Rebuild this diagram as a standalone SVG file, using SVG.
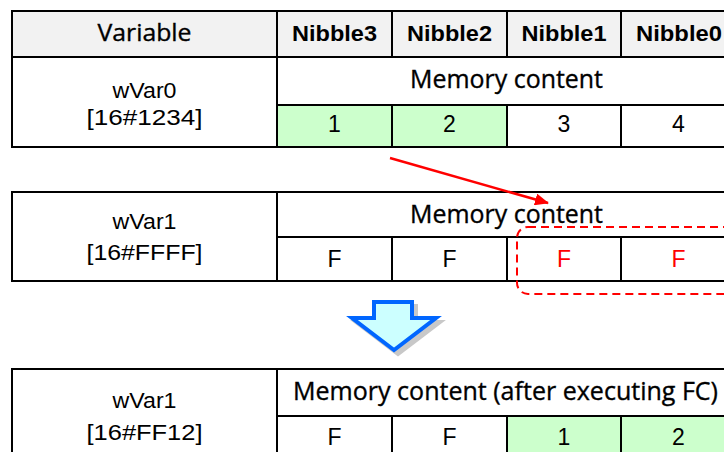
<svg xmlns="http://www.w3.org/2000/svg" width="724" height="452" viewBox="0 0 724 452">
<defs>
<style>
.ln{stroke:#000;stroke-width:2;fill:none}
.hdr{fill:#f2f2f2}
.grn{fill:#ccffcc}
.h1{font-family:"Open Sans","Noto Sans",sans-serif;font-size:23px;fill:#000;stroke:#000;stroke-width:0.35;text-anchor:middle}
.mc{font-family:"Open Sans","Noto Sans",sans-serif;font-size:25px;fill:#000;stroke:#000;stroke-width:0.35;text-anchor:middle}
.nb{font-family:"Liberation Sans",Arial,sans-serif;font-size:22px;font-weight:bold;fill:#000;text-anchor:middle}
.v{font-family:"Liberation Sans",Arial,sans-serif;font-size:22px;fill:#000;text-anchor:middle}
.d{font-family:"Liberation Sans",Arial,sans-serif;font-size:23px;fill:#000;text-anchor:middle}
.red{fill:#ff0000}
</style>
<marker id="ah" markerWidth="14" markerHeight="12" refX="13" refY="6" orient="auto" markerUnits="userSpaceOnUse">
<path d="M0,0 L14,6 L0,12 Z" fill="#ff0000"/>
</marker>
</defs>
<rect width="724" height="452" fill="#fff"/>

<g id="table1">
<rect x="12" y="11" width="724" height="46" class="hdr"/>
<rect x="277" y="105" width="115" height="42" class="grn"/>
<rect x="392" y="105" width="115" height="42" class="grn"/>
<rect x="12" y="11" width="724" height="136" class="ln"/>
<path class="ln" d="M12,57H736M277,105H736M277,11V147M392,11V57M507,11V57M621,11V57M392,105V147M507,105V147M621,105V147"/>
<text class="h1" x="144.5" y="41" textLength="94" lengthAdjust="spacingAndGlyphs">Variable</text>
<text class="nb" x="334.5" y="41" textLength="85" lengthAdjust="spacingAndGlyphs">Nibble3</text>
<text class="nb" x="449.5" y="41" textLength="85" lengthAdjust="spacingAndGlyphs">Nibble2</text>
<text class="nb" x="564" y="41" textLength="85" lengthAdjust="spacingAndGlyphs">Nibble1</text>
<text class="nb" x="679" y="41" textLength="86" lengthAdjust="spacingAndGlyphs">Nibble0</text>
<text class="v" x="144.5" y="98" textLength="64" lengthAdjust="spacingAndGlyphs">wVar0</text>
<text class="v" x="144.5" y="125" textLength="116" lengthAdjust="spacingAndGlyphs">[16#1234]</text>
<text class="mc" x="506.5" y="88" textLength="193" lengthAdjust="spacingAndGlyphs">Memory content</text>
<text class="d" x="334.5" y="132">1</text>
<text class="d" x="449.5" y="132">2</text>
<text class="d" x="564" y="132">3</text>
<text class="d" x="678.5" y="132">4</text>
</g>

<g id="table2">
<rect x="12" y="192" width="724" height="89" class="ln"/>
<path class="ln" d="M277,237H736M277,192V281M392,237V281M507,237V281M621,237V281"/>
<text class="v" x="144.5" y="229" textLength="64" lengthAdjust="spacingAndGlyphs">wVar1</text>
<text class="v" x="144.5" y="260" textLength="116" lengthAdjust="spacingAndGlyphs">[16#FFFF]</text>
<text class="mc" x="506.5" y="223" textLength="193" lengthAdjust="spacingAndGlyphs">Memory content</text>
<text class="d" x="334.5" y="267">F</text>
<text class="d" x="449.5" y="267">F</text>
<text class="d red" x="564" y="267">F</text>
<text class="d red" x="678.5" y="267">F</text>
</g>

<g id="highlight">
<rect x="517" y="227" width="230" height="67" rx="11" fill="none" stroke="#ff0000" stroke-width="2" stroke-dasharray="8,5"/>
</g>

<g id="table3">
<rect x="507" y="416" width="114" height="44" class="grn"/>
<rect x="621" y="416" width="115" height="44" class="grn"/>
<rect x="12" y="369" width="724" height="91" class="ln"/>
<path class="ln" d="M277,416H736M277,369V460M392,416V460M507,416V460M621,416V460"/>
<text class="v" x="144.5" y="408" textLength="64" lengthAdjust="spacingAndGlyphs">wVar1</text>
<text class="v" x="144.5" y="440" textLength="116" lengthAdjust="spacingAndGlyphs">[16#FF12]</text>
<text class="mc" x="505.5" y="400" textLength="425" lengthAdjust="spacingAndGlyphs">Memory content (after executing FC)</text>
<text class="d" x="334.5" y="445">F</text>
<text class="d" x="449.5" y="445">F</text>
<text class="d" x="564" y="445">1</text>
<text class="d" x="678.5" y="445">2</text>
</g>

<g id="blue-arrow">
<polygon points="378,306 416,306 416,322 440,322 398,354 356,322 378,322" fill="#c8c8c8" stroke="#c8c8c8" stroke-width="4" stroke-linejoin="miter"/>
<polygon points="374,302 412,302 412,318 436,318 394,350 352,318 374,318" fill="#ccffff" stroke="#0066ff" stroke-width="4" stroke-linejoin="miter"/>
</g>

<g id="connectors">
<line x1="390" y1="158" x2="548" y2="203" stroke="#ff0000" stroke-width="2.5" marker-end="url(#ah)"/>
</g>
</svg>
